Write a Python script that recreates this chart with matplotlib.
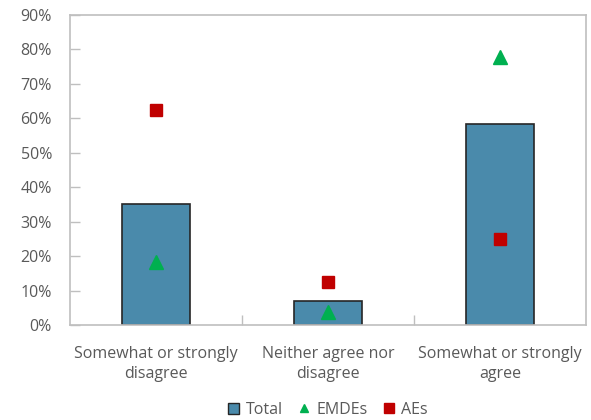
import numpy as np
import matplotlib.pyplot as plt
from matplotlib.lines import Line2D
from matplotlib.patches import Patch
from matplotlib.ticker import PercentFormatter

# Survey responses (share of respondents, %)
categories = ["Somewhat or strongly\ndisagree", "Neither agree nor\ndisagree", "Somewhat or strongly\nagree"]
total = [35.1, 7.1, 58.3]
emdes = [18.4, 3.8, 77.7]
aes = [62.3, 12.4, 24.9]

plt.rcParams['font.family'] = ['Open Sans', 'DejaVu Sans']
text_col = '#595959'
grid_col = '#bfbfbf'
bar_col = '#4a8aab'
green = '#00b050'
red = '#c00000'

fig = plt.figure(figsize=(5.91, 4.2), dpi=100)
ax = fig.add_axes([0.1184, 0.2262, 0.873, 0.738])

x = np.arange(len(categories))
ax.bar(x, total, width=0.4, color=bar_col, edgecolor='#262626', linewidth=1.2, zorder=2)
ax.plot(x, emdes, linestyle='none', marker='^', markersize=10, color=green, zorder=3)
ax.plot(x, aes, linestyle='none', marker='s', markersize=9, color=red, zorder=3)

ax.set_xlim(-0.5, 2.5)
ax.set_ylim(0, 90)
ax.set_yticks(np.arange(0, 91, 10))
ax.yaxis.set_major_formatter(PercentFormatter(decimals=0))
ax.set_xticks(x)
ax.set_xticklabels(categories, fontsize=11.5, color=text_col, linespacing=1.35)
ax.set_xticks([0.5, 1.5], minor=True)
ax.tick_params(axis='x', which='major', length=0, pad=15)
ax.tick_params(axis='x', which='minor', direction='in', length=7, color=grid_col, width=1)
ax.tick_params(axis='y', direction='in', length=7, color=grid_col, width=1,
               labelsize=11.5, labelcolor=text_col, pad=13)

for s in ax.spines.values():
    s.set_color(grid_col)
    s.set_linewidth(1.2)

handles = [
    Patch(facecolor=bar_col, edgecolor='#262626', linewidth=1.0, label='Total'),
    Line2D([], [], linestyle='none', marker='^', markersize=6, color=green, label='EMDEs'),
    Line2D([], [], linestyle='none', marker='s', markersize=7, color=red, label='AEs'),
]
leg = ax.legend(handles=handles, loc='upper center', bbox_to_anchor=(0.5, -0.228), ncol=3,
                frameon=False, fontsize=11.5, handlelength=0.7, handleheight=0.7,
                handletextpad=0.4, columnspacing=1.0, borderaxespad=0)
for t in leg.get_texts():
    t.set_color(text_col)

plt.savefig("out.png", dpi=100)
